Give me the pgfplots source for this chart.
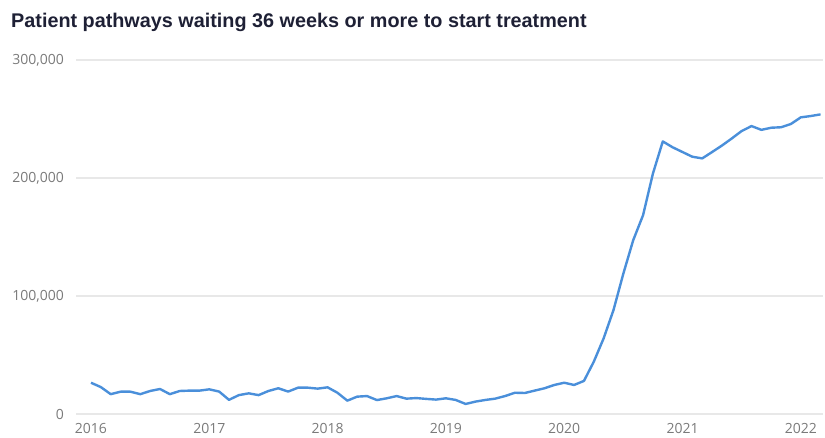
\documentclass[border=0pt]{standalone}
\usepackage{fontspec}
\setmainfont{Open Sans}
\newfontfamily\titlefont{Liberation Sans}
\usepackage{pgfplots}
\pgfplotsset{compat=1.18}

\definecolor{linec}{HTML}{4A8FDA}
\definecolor{gridc}{HTML}{E8E8E8}
\definecolor{tickc}{HTML}{7A7A7A}
\definecolor{titlec}{HTML}{1E2035}

% month index (0 = Jan 2016), pathways waiting 36+ weeks
\pgfplotstableread{
m val
0 26500
1 22800
2 16800
3 18900
4 18900
5 16800
6 19500
7 21200
8 16800
9 19500
10 19800
11 19800
12 20900
13 19000
14 12000
15 16000
16 17500
17 16000
18 19500
19 21800
20 19000
21 22300
22 22300
23 21500
24 22600
25 18000
26 11300
27 14700
28 15200
29 11800
30 13300
31 15200
32 13000
33 13500
34 12800
35 12200
36 13300
37 11900
38 8500
39 10500
40 11900
41 13000
42 15200
43 18000
44 17800
45 19800
46 21800
47 24600
48 26500
49 24600
50 28000
51 44300
52 64100
53 88100
54 119000
55 147300
56 168500
57 203800
58 231000
59 226000
60 222000
61 218000
62 216600
63 222000
64 227500
65 233500
66 239800
67 244000
68 240800
69 242600
70 243000
71 245800
72 251400
73 252500
74 253900
}\waiting

\begin{document}
\begin{tikzpicture}
\useasboundingbox (0,0) rectangle (825pt,438pt);
\node[anchor=base west, inner sep=0pt, text=titlec,
  font=\titlefont\bfseries\fontsize{19.8}{23}\selectfont] at (11pt,410pt)
  {Patient pathways waiting 36 weeks or more to start treatment};
\begin{axis}[
  at={(76pt,24pt)}, anchor=south west,
  scale only axis, width=747pt, height=354pt,
  xmin=-1.52, xmax=74.25, ymin=0, ymax=300000,
  xtick={0,12,24,36,48,60,72},
  xticklabels={2016,2017,2018,2019,2020,2021,2022},
  ytick={0,100000,200000,300000},
  scaled y ticks=false,
  /pgf/number format/.cd, fixed, 1000 sep={,}, assume math mode=true,
  /pgfplots/.cd,
  axis line style={draw=none},
  major tick length=0pt,
  ymajorgrids, grid style={gridc, line width=1.3pt},
  tick label style={text=tickc, font=\fontsize{14}{16}\selectfont, inner sep=0pt},
  yticklabel style={anchor=east, xshift=-12pt},
  xticklabel style={anchor=north, yshift=-9pt},
  clip=false,
]
\addplot[linec, line width=2.4pt, line join=round] table[x=m, y=val] {\waiting};
\end{axis}
\end{tikzpicture}
\end{document}
